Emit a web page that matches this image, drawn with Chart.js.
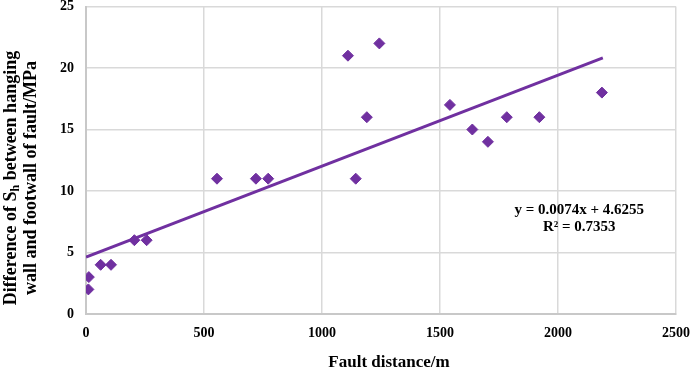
<!DOCTYPE html>
<html>
<head>
<meta charset="utf-8">
<script src="https://cdn.jsdelivr.net/npm/chart.js@4/dist/chart.umd.min.js"></script>
<style>
  html, body { margin: 0; padding: 0; background: #ffffff; }
  #wrap { width: 692px; height: 371px; }
</style>
</head>
<body>
<div id="wrap"><canvas id="c" width="692" height="371"></canvas></div>
<script>
// Observed points: fault distance (m) and difference of Sh (MPa)
const faultDistance = [10, 12, 62, 106, 205, 257, 555, 720, 772, 1110, 1143, 1190, 1243, 1542, 1637, 1703, 1783, 1921, 2186];
const shDifference  = [2, 3, 4, 4, 6, 6, 11, 11, 11, 21, 11, 16, 22, 17, 15, 14, 16, 16, 18];
// Trend line end points
const trendX = [0, 2190];
const trendY = [4.63, 20.83];
// Text
const equationLines = ['y = 0.0074x + 4.6255', 'R\u00B2 = 0.7353'];
const xTitle = 'Fault distance/m';
const yTitleLine1 = ['Difference of S', 'h', ' between hanging'];
const yTitleLine2 = 'wall and footwall of fault/MPa';

const FONT = "'Liberation Serif', 'Times New Roman', serif";
const PURPLE = '#7030A0';

const pointData = faultDistance.map((x, i) => ({ x: x, y: shDifference[i] }));
const trendData = trendX.map((x, i) => ({ x: x, y: trendY[i] }));

const overlay = {
  id: 'overlay',
  afterDraw(chart) {
    const ctx = chart.ctx;
    const xs = chart.scales.x, ys = chart.scales.y;
    ctx.save();
    ctx.fillStyle = '#000';
    // equation
    ctx.font = 'bold 15px ' + FONT;
    ctx.textAlign = 'center';
    ctx.textBaseline = 'middle';
    const ex = xs.getPixelForValue(2090);
    const ey = ys.getPixelForValue(8.3);
    ctx.fillText(equationLines[0], ex, ey - 2);
    ctx.fillText(equationLines[1], ex, ey + 15);
    // x title
    ctx.font = 'bold 17px ' + FONT;
    ctx.textBaseline = 'alphabetic';
    ctx.fillText(xTitle, xs.getPixelForValue(1284), 367);
    ctx.restore();

    // y title with subscript
    ctx.save();
    const cy = 178;
    const big = 'bold 18px ' + FONT, small = 'bold 12px ' + FONT;
    ctx.fillStyle = '#000';
    ctx.textBaseline = 'middle';
    ctx.textAlign = 'left';
    ctx.translate(11, cy);
    ctx.rotate(-Math.PI / 2);
    ctx.font = big;
    const w0 = ctx.measureText(yTitleLine1[0]).width;
    const w2 = ctx.measureText(yTitleLine1[2]).width;
    ctx.font = small;
    const w1 = ctx.measureText(yTitleLine1[1]).width;
    let sx = -(w0 + w1 + w2) / 2;
    ctx.font = big;
    ctx.fillText(yTitleLine1[0], sx, 0);
    sx += w0;
    ctx.font = small;
    ctx.fillText(yTitleLine1[1], sx, 5);
    sx += w1;
    ctx.font = big;
    ctx.fillText(yTitleLine1[2], sx, 0);
    ctx.textAlign = 'center';
    ctx.fillText(yTitleLine2, 0, 20);
    ctx.restore();
  }
};

new Chart(document.getElementById('c'), {
  type: 'scatter',
  data: {
    datasets: [
      {
        label: 'data',
        data: pointData,
        pointStyle: 'rectRot',
        pointRadius: 5.5,
        pointHoverRadius: 5.5,
        backgroundColor: PURPLE,
        borderColor: PURPLE,
        borderWidth: 1,
        order: 2
      },
      {
        type: 'line',
        label: 'trend',
        data: trendData,
        borderColor: PURPLE,
        borderWidth: 3,
        pointRadius: 0,
        fill: false,
        order: 1
      }
    ]
  },
  options: {
    responsive: false,
    animation: false,
    devicePixelRatio: 1,
    layout: { padding: { top: 6, right: 16, left: 0, bottom: 0 } },
    plugins: {
      legend: { display: false },
      tooltip: { enabled: false }
    },
    scales: {
      x: {
        type: 'linear',
        min: 0, max: 2500,
        ticks: { stepSize: 500, color: '#000', padding: 11, font: { family: FONT, size: 14, weight: 'bold' },
                 callback: (v) => String(v) },
        grid: { color: '#d9d9d9', lineWidth: 1.5, drawTicks: false },
        border: { color: '#c8c8c8', width: 2 },
        afterFit(scale) { scale.height = 57; scale.paddingRight = 0; scale.paddingLeft = 0; }
      },
      y: {
        type: 'linear',
        min: 0, max: 25,
        ticks: { stepSize: 5, color: '#000', padding: 12, font: { family: FONT, size: 14, weight: 'bold' },
                 callback: (v) => String(v) },
        grid: { color: '#d9d9d9', lineWidth: 1.5, drawTicks: false },
        border: { color: '#c8c8c8', width: 2 },
        afterFit(scale) { scale.width = 86; scale.paddingTop = 0; scale.paddingBottom = 0; }
      }
    }
  },
  plugins: [overlay]
});
</script>
</body>
</html>
